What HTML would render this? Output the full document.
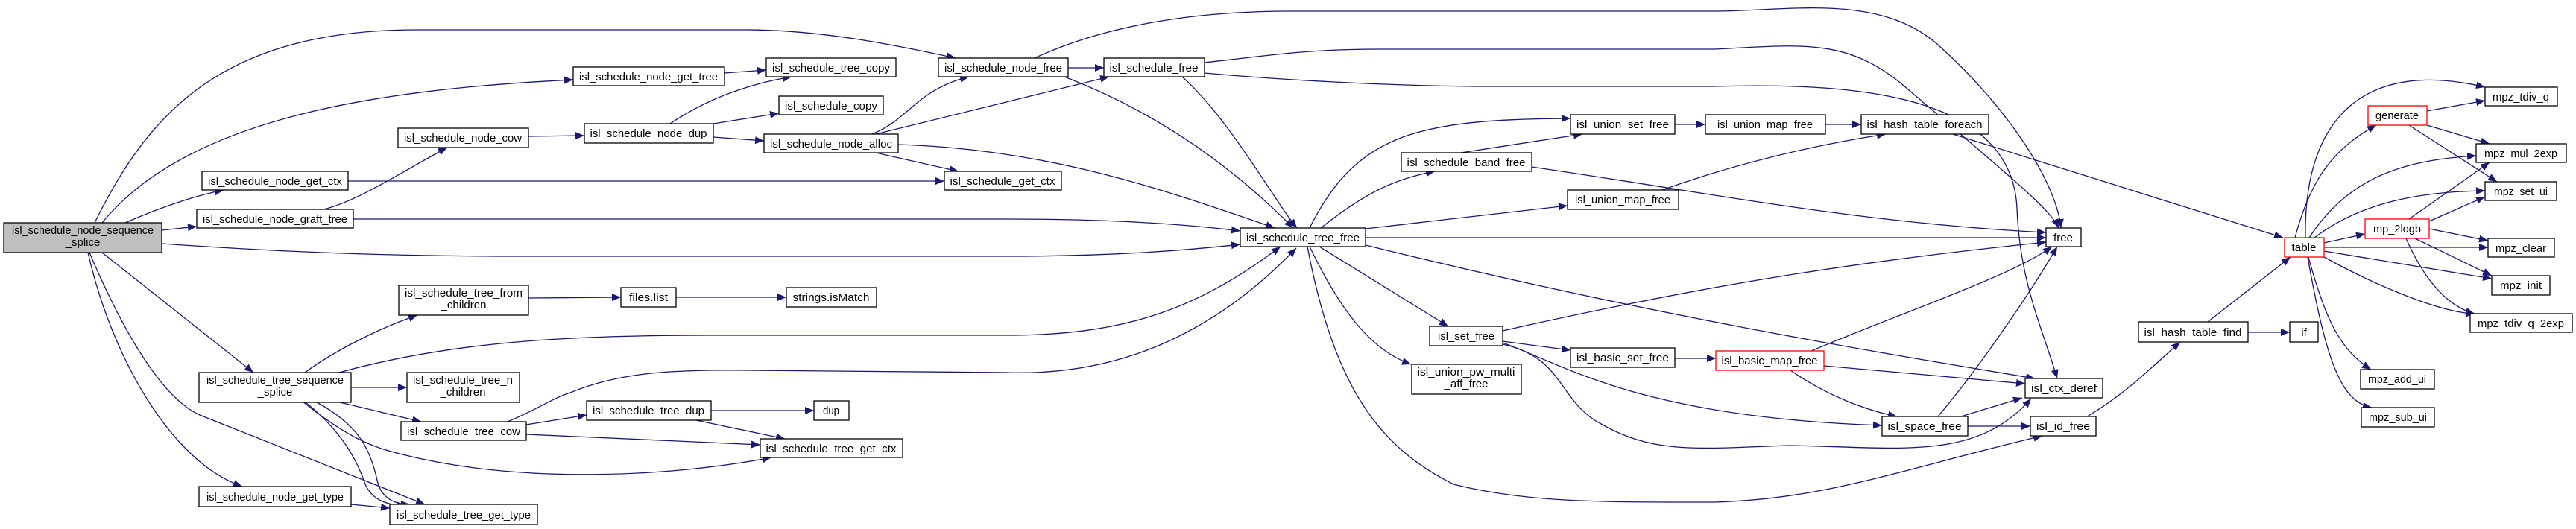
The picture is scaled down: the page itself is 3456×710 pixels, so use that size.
<!DOCTYPE html>
<html><head><meta charset="utf-8"><style>
html,body{margin:0;padding:0;background:#fff;}
svg{display:block;}
text{font-family:"Liberation Sans",sans-serif;font-size:15px;fill:#000;text-anchor:middle;}
.e{fill:none;stroke:#191970;stroke-width:1.3;}
rect{fill:#fff;stroke:#000;stroke-width:1.3;}
rect.r{stroke:#f00;}
</style></head><body>
<svg width="3456" height="710" viewBox="0 0 3456 710" xmlns="http://www.w3.org/2000/svg">
<defs><marker id="a" markerUnits="userSpaceOnUse" markerWidth="14" markerHeight="12" refX="12" refY="5" orient="auto"><path d="M0,0 L12,5 L0,10 z" fill="#191970"/></marker></defs>
<g class="e" marker-end="url(#a)">
<path d="M127,299 C200,150 300,40 560,40 L1000,40 C1100,40 1200,60 1282,78"/>
<path d="M137,299 C250,160 500,120 769,107"/>
<path d="M168,299 C200,285 250,265 300,255"/>
<path d="M217,309 L264,304"/>
<path d="M217,327 C400,340 550,344 700,344 L1350,344 C1500,344 1600,335 1664,328"/>
<path d="M137,339 L340,500"/>
<path d="M118,339 C150,480 230,620 325,653"/>
<path d="M120,339 C180,480 230,540 268,557 L570,677"/>
<path d="M972,98 L1028,94"/>
<path d="M709,183 L784,182"/>
<path d="M899,166 C960,125 1020,110 1062,103"/>
<path d="M957,166 L1045,152"/>
<path d="M957,184 L1025,189"/>
<path d="M1170,180 C1220,160 1230,120 1300,103"/>
<path d="M1175,180 L1488,103"/>
<path d="M1175,205 L1286,230"/>
<path d="M1205,194 C1400,200 1550,250 1710,306"/>
<path d="M467,243 L1267,243"/>
<path d="M434,281 C480,270 540,230 600,198"/>
<path d="M474,294 L1350,294 C1500,294 1600,302 1664,310"/>
<path d="M1433,91 L1481,91"/>
<path d="M1388,78 C1480,35 1600,15 1730,15 L2300,15 C2400,15 2520,-10 2600,60 C2700,150 2760,250 2765,306"/>
<path d="M1428,103 C1550,150 1650,220 1735,306"/>
<path d="M1616,84 C1700,75 1750,66 1850,66 L2300,66 C2420,60 2480,50 2560,120 C2700,240 2750,280 2762,306"/>
<path d="M1616,98 C1750,110 1900,116 2000,116 L2300,116 C2500,110 2700,130 2706,280 C2710,380 2740,440 2760,508"/>
<path d="M1586,103 C1650,160 1710,270 1740,306"/>
<path d="M1757,306 C1820,180 1900,160 2107,159"/>
<path d="M1772,306 C1830,260 1870,240 1925,230"/>
<path d="M1832,307 L2103,276"/>
<path d="M1832,319 L2745,319"/>
<path d="M1832,329 C2200,420 2500,470 2730,508"/>
<path d="M1770,331 L1943,438"/>
<path d="M1757,331 C1800,420 1840,470 1893,489"/>
<path d="M1754,331 C1790,520 1850,600 1950,650 C2050,675 2150,674 2300,674 C2450,670 2550,630 2740,585"/>
<path d="M1960,205 L2123,180"/>
<path d="M2055,224 C2300,260 2500,300 2745,312"/>
<path d="M2247,167 L2288,167"/>
<path d="M2230,255 C2300,230 2400,200 2530,180"/>
<path d="M2449,167 L2497,167"/>
<path d="M2620,180 L3063,319"/>
<path d="M2016,444 C2300,380 2500,350 2745,325"/>
<path d="M2016,458 L2107,470"/>
<path d="M2016,460 C2100,490 2200,560 2525,571"/>
<path d="M2016,462 C2100,480 2090,540 2150,570 C2220,610 2280,602 2400,598 C2550,600 2650,620 2725,535"/>
<path d="M2247,481 L2302,481"/>
<path d="M2430,471 C2550,420 2700,370 2753,331"/>
<path d="M2447,491 L2717,515"/>
<path d="M2402,497 C2450,530 2500,550 2545,559"/>
<path d="M2600,559 C2650,500 2720,400 2760,331"/>
<path d="M2631,559 L2713,534"/>
<path d="M2640,572 L2724,572"/>
<path d="M2800,559 C2850,530 2890,490 2925,459"/>
<path d="M3016,446 L3072,446"/>
<path d="M2962,432 L3073,345"/>
<path d="M3079,319 C3100,240 3130,200 3188,168"/>
<path d="M3093,319 C3090,150 3180,80 3334,117"/>
<path d="M3256,149 L3334,135"/>
<path d="M3256,168 L3340,193"/>
<path d="M3232,168 L3350,244"/>
<path d="M3098,319 C3150,240 3220,215 3322,209"/>
<path d="M3105,319 C3170,270 3250,257 3334,256"/>
<path d="M3118,326 L3173,314"/>
<path d="M3118,332 L3338,332"/>
<path d="M3118,337 L3343,374"/>
<path d="M3118,345 C3200,390 3280,420 3320,421"/>
<path d="M3097,345 C3120,430 3140,470 3181,496"/>
<path d="M3096,345 C3120,480 3140,540 3182,547"/>
<path d="M3232,294 L3340,218"/>
<path d="M3259,297 L3334,264"/>
<path d="M3259,307 L3338,323"/>
<path d="M3240,320 L3343,370"/>
<path d="M3228,320 C3250,370 3280,410 3320,421"/>
<path d="M709,400 L833,399"/>
<path d="M907,399 L1055,399"/>
<path d="M409,500 C450,470 510,440 560,423"/>
<path d="M455,500 C600,460 750,450 950,450 L1350,450 C1500,450 1600,420 1718,331"/>
<path d="M471,520 L546,520"/>
<path d="M456,540 L565,566"/>
<path d="M406,539 C470,590 500,600 540,610 C700,650 900,640 1035,614"/>
<path d="M425,540 C480,570 495,600 505,640 C510,670 530,677 550,677"/>
<path d="M410,540 C460,580 480,620 490,650 C500,672 520,678 545,679"/>
<path d="M706,570 L787,557"/>
<path d="M706,583 L1020,597"/>
<path d="M681,566 C720,550 740,535 765,527 C830,500 900,496 1000,497 L1350,500 C1494,505 1624,453 1739,333"/>
<path d="M954,551 L1092,551"/>
<path d="M934,564 L1053,589"/>
<path d="M471,677 L523,682"/>
</g>
<g>
<rect x="5" y="299" width="212" height="40" style="fill:#bfbfbf"/>
<text x="111" y="314" textLength="190" lengthAdjust="spacingAndGlyphs">isl_schedule_node_sequence</text>
<text x="111" y="330">_splice</text>

<rect x="769" y="90" width="203" height="25"/><text x="870" y="108" textLength="186" lengthAdjust="spacingAndGlyphs">isl_schedule_node_get_tree</text>
<rect x="1028" y="78" width="174" height="25"/><text x="1115" y="96" textLength="158" lengthAdjust="spacingAndGlyphs">isl_schedule_tree_copy</text>
<rect x="1045" y="129" width="140" height="25"/><text x="1115" y="147" textLength="124" lengthAdjust="spacingAndGlyphs">isl_schedule_copy</text>
<rect x="534" y="172" width="175" height="26"/><text x="621" y="190" textLength="158" lengthAdjust="spacingAndGlyphs">isl_schedule_node_cow</text>
<rect x="784" y="166" width="173" height="26"/><text x="870" y="184" textLength="157" lengthAdjust="spacingAndGlyphs">isl_schedule_node_dup</text>
<rect x="1025" y="180" width="180" height="25"/><text x="1115" y="198" textLength="164" lengthAdjust="spacingAndGlyphs">isl_schedule_node_alloc</text>
<rect x="271" y="230" width="196" height="25"/><text x="369" y="248" textLength="180" lengthAdjust="spacingAndGlyphs">isl_schedule_node_get_ctx</text>
<rect x="264" y="281" width="210" height="25"/><text x="369" y="299" textLength="194" lengthAdjust="spacingAndGlyphs">isl_schedule_node_graft_tree</text>
<rect x="535" y="383" width="174" height="40"/><text x="622" y="398" textLength="158" lengthAdjust="spacingAndGlyphs">isl_schedule_tree_from</text><text x="622" y="414">_children</text>
<rect x="833" y="386" width="74" height="26"/><text x="870" y="404" textLength="52" lengthAdjust="spacingAndGlyphs">files.list</text>
<rect x="1055" y="386" width="121" height="26"/><text x="1115" y="404" textLength="103" lengthAdjust="spacingAndGlyphs">strings.isMatch</text>
<rect x="267" y="500" width="204" height="40"/><text x="369" y="515" textLength="184" lengthAdjust="spacingAndGlyphs">isl_schedule_tree_sequence</text><text x="369" y="531">_splice</text>
<rect x="546" y="500" width="151" height="40"/><text x="621" y="515" textLength="134" lengthAdjust="spacingAndGlyphs">isl_schedule_tree_n</text><text x="621" y="531">_children</text>
<rect x="787" y="538" width="167" height="26"/><text x="870" y="556" textLength="150" lengthAdjust="spacingAndGlyphs">isl_schedule_tree_dup</text>
<rect x="1092" y="538" width="47" height="26"/><text x="1115" y="556" textLength="22" lengthAdjust="spacingAndGlyphs">dup</text>
<rect x="538" y="566" width="168" height="25"/><text x="622" y="584" textLength="152" lengthAdjust="spacingAndGlyphs">isl_schedule_tree_cow</text>
<rect x="1020" y="589" width="191" height="25"/><text x="1115" y="607" textLength="175" lengthAdjust="spacingAndGlyphs">isl_schedule_tree_get_ctx</text>
<rect x="267" y="653" width="204" height="27"/><text x="369" y="672" textLength="184" lengthAdjust="spacingAndGlyphs">isl_schedule_node_get_type</text>
<rect x="523" y="677" width="198" height="27"/><text x="622" y="696" textLength="180" lengthAdjust="spacingAndGlyphs">isl_schedule_tree_get_type</text>
<rect x="1259" y="78" width="174" height="25"/><text x="1346" y="96" textLength="158" lengthAdjust="spacingAndGlyphs">isl_schedule_node_free</text>
<rect x="1481" y="78" width="135" height="25"/><text x="1548" y="96" textLength="119" lengthAdjust="spacingAndGlyphs">isl_schedule_free</text>
<rect x="1267" y="230" width="157" height="25"/><text x="1345" y="248" textLength="141" lengthAdjust="spacingAndGlyphs">isl_schedule_get_ctx</text>
<rect x="1664" y="306" width="168" height="25"/><text x="1748" y="324" textLength="152" lengthAdjust="spacingAndGlyphs">isl_schedule_tree_free</text>
<rect x="2107" y="154" width="140" height="26"/><text x="2177" y="172" textLength="124" lengthAdjust="spacingAndGlyphs">isl_union_set_free</text>
<rect x="1880" y="205" width="175" height="25"/><text x="1967" y="223" textLength="159" lengthAdjust="spacingAndGlyphs">isl_schedule_band_free</text>
<rect x="2103" y="255" width="149" height="26"/><text x="2177" y="273" textLength="128" lengthAdjust="spacingAndGlyphs">isl_union_map_free</text>
<rect x="1918" y="438" width="98" height="26"/><text x="1967" y="456" textLength="76" lengthAdjust="spacingAndGlyphs">isl_set_free</text>
<rect x="2107" y="467" width="140" height="26"/><text x="2177" y="485" textLength="124" lengthAdjust="spacingAndGlyphs">isl_basic_set_free</text>
<rect x="1894" y="489" width="147" height="40"/><text x="1967" y="504" textLength="131" lengthAdjust="spacingAndGlyphs">isl_union_pw_multi</text><text x="1967" y="520">_aff_free</text>
<rect x="2288" y="154" width="161" height="26"/><text x="2368" y="172" textLength="128" lengthAdjust="spacingAndGlyphs">isl_union_map_free</text>
<rect x="2497" y="154" width="171" height="26"/><text x="2582" y="172" textLength="155" lengthAdjust="spacingAndGlyphs">isl_hash_table_foreach</text>
<rect x="2745" y="306" width="47" height="25"/><text x="2768" y="324" textLength="26" lengthAdjust="spacingAndGlyphs">free</text>
<rect class="r" x="2302" y="471" width="145" height="26"/><text x="2374" y="489" textLength="129" lengthAdjust="spacingAndGlyphs">isl_basic_map_free</text>
<rect x="2717" y="508" width="104" height="26"/><text x="2769" y="526" textLength="88" lengthAdjust="spacingAndGlyphs">isl_ctx_deref</text>
<rect x="2525" y="559" width="115" height="26"/><text x="2582" y="577" textLength="99" lengthAdjust="spacingAndGlyphs">isl_space_free</text>
<rect x="2724" y="559" width="88" height="26"/><text x="2768" y="577" textLength="72" lengthAdjust="spacingAndGlyphs">isl_id_free</text>
<rect x="2869" y="432" width="147" height="27"/><text x="2942" y="451" textLength="131" lengthAdjust="spacingAndGlyphs">isl_hash_table_find</text>
<rect x="3072" y="432" width="38" height="27"/><text x="3091" y="451">if</text>
<rect class="r" x="3065" y="319" width="53" height="26"/><text x="3091" y="337" textLength="33" lengthAdjust="spacingAndGlyphs">table</text>
<rect class="r" x="3177" y="142" width="79" height="26"/><text x="3216" y="160" textLength="58" lengthAdjust="spacingAndGlyphs">generate</text>
<rect class="r" x="3173" y="294" width="86" height="26"/><text x="3216" y="312" textLength="64" lengthAdjust="spacingAndGlyphs">mp_2logb</text>
<rect x="3334" y="117" width="97" height="25"/><text x="3382" y="135" textLength="76" lengthAdjust="spacingAndGlyphs">mpz_tdiv_q</text>
<rect x="3322" y="193" width="121" height="25"/><text x="3382" y="211" textLength="98" lengthAdjust="spacingAndGlyphs">mpz_mul_2exp</text>
<rect x="3334" y="244" width="96" height="25"/><text x="3382" y="262" textLength="72" lengthAdjust="spacingAndGlyphs">mpz_set_ui</text>
<rect x="3338" y="320" width="89" height="25"/><text x="3382" y="338" textLength="68" lengthAdjust="spacingAndGlyphs">mpz_clear</text>
<rect x="3343" y="370" width="78" height="26"/><text x="3382" y="388" textLength="56" lengthAdjust="spacingAndGlyphs">mpz_init</text>
<rect x="3314" y="421" width="137" height="25"/><text x="3382" y="439" textLength="116" lengthAdjust="spacingAndGlyphs">mpz_tdiv_q_2exp</text>
<rect x="3167" y="496" width="99" height="26"/><text x="3216" y="514" textLength="78" lengthAdjust="spacingAndGlyphs">mpz_add_ui</text>
<rect x="3168" y="547" width="98" height="26"/><text x="3217" y="565" textLength="78" lengthAdjust="spacingAndGlyphs">mpz_sub_ui</text>
</g>
</svg>
</body></html>
